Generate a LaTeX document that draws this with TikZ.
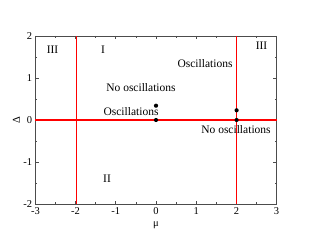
\documentclass[tikz,border=0pt]{standalone}
\usepackage{fontspec}
\setmainfont{Liberation Serif}
\definecolor{plotred}{RGB}{255,0,0}
\begin{document}
\begin{tikzpicture}[x=1pt,y=1pt,
  frame/.style={draw=black!70,line width=0.9pt},
  tick/.style={draw=black!70,line width=0.7pt},
  redline/.style={draw=plotred,line width=1.4pt},
  dot/.style={circle,fill=black,inner sep=0pt,minimum size=4.2pt},
  lab/.style={font=\fontsize{11.5}{12}\selectfont,inner sep=0pt},
  ticklab/.style={font=\fontsize{10.5}{12}\selectfont,inner sep=0pt}]
\useasboundingbox (0,0) rectangle (312,241);
% ticks
\foreach \px/\t in {35.4/-3,75.6/-2,115.8/-1,156/0,196.2/1,236.4/2,276.6/3} {
  \draw[tick] (\px,37) -- ++(0,3.5);
  \draw[tick] (\px,205) -- ++(0,-3.5);
  \node[ticklab,anchor=north] at (\px,33.6) {\t};
}
\foreach \px in {55.5,95.7,135.9,176.1,216.3,256.5} {
  \draw[tick] (\px,37) -- ++(0,2);
  \draw[tick] (\px,205) -- ++(0,-2);
}
\foreach \py/\t in {37/-2,79/-1,121/0,163/1,205/2} {
  \draw[tick] (35.4,\py) -- ++(3.5,0);
  \draw[tick] (276.6,\py) -- ++(-3.5,0);
  \node[ticklab,anchor=east] at (32.2,\py) {\t};
}
\foreach \py in {58,100,142,184} {
  \draw[tick] (35.4,\py) -- ++(2,0);
  \draw[tick] (276.6,\py) -- ++(-2,0);
}
\coordinate (bl) at (35.4,37); \coordinate (tr) at (276.6,205);
\draw[frame] (bl) rectangle (tr);
% red lines
\coordinate (hl) at (35.4,121); \coordinate (hr) at (276.6,121);
\coordinate (lb) at (76.2,37); \coordinate (lt) at (76.2,205);
\coordinate (rb) at (236.6,37); \coordinate (rt) at (236.6,205);
\draw[redline] (hl) -- (hr);
\draw[redline] (lb) -- (lt);
\draw[redline] (rb) -- (rt);
% axis labels
\node[ticklab] (mu) at (156,16) {μ};
\node[ticklab,rotate=90] (delta) at (16.5,121) {Δ};
% dots
\node[dot] (d1) at (156,121) {};
\node[dot] (d2) at (156,135.3) {};
\node[dot] (d3) at (236.6,121) {};
\node[dot] (d4) at (236.6,130.7) {};
% region labels
\node[lab] (r3a) at (52.5,191) {III};
\node[lab] (r1) at (103,191) {I};
\node[lab] (r2) at (107,62) {II};
\node[lab] (r3b) at (261.5,195) {III};
\node[lab] (nol) at (141,153) {No oscillations};
\node[lab] (osl) at (131,129.5) {Oscillations};
\node[lab] (osr) at (205,177.5) {Oscillations};
\node[lab] (nor) at (236,111.8) {No oscillations};
\end{tikzpicture}
\end{document}
